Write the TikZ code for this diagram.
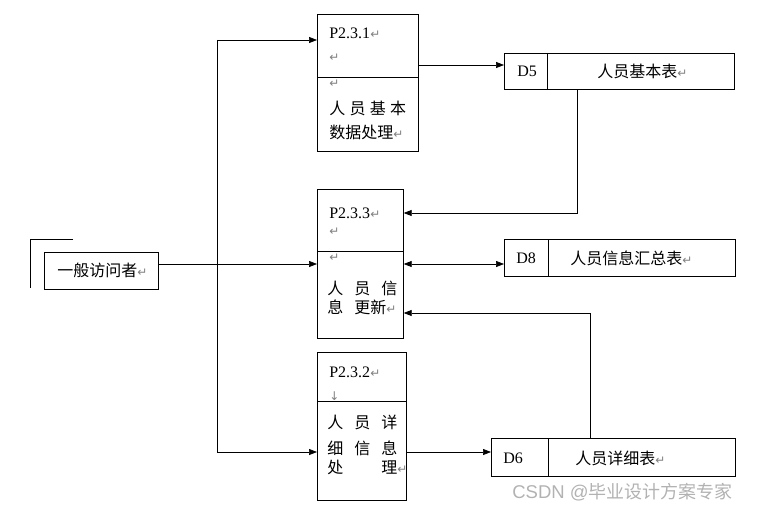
\documentclass[tikz,border=0pt]{standalone}
\usepackage{fontspec}
\setmainfont{Liberation Serif}
\newfontfamily\cjk{Noto Sans CJK SC}
\newfontfamily\symf{DejaVu Sans}
\newfontfamily\wmlatin{Liberation Sans}
\usetikzlibrary{positioning}
\usetikzlibrary{arrows.meta}
\usetikzlibrary{calc}

\newcommand{\ret}{{\symf\color{gray}\fontsize{12}{12}\selectfont ↵}}

\begin{document}
\begin{tikzpicture}[x=1pt, y=-1pt, line width=0.7pt,
  box/.style={draw, anchor=north west, inner sep=0pt},
  txt/.style={anchor=west, inner sep=0pt, font=\fontsize{16}{18}\selectfont},
  flow/.style={-{Triangle[length=8pt,width=6pt]}}]

  \useasboundingbox (0,0) rectangle (758,511);

  % process boxes
  \foreach \name/\top/\w/\h/\cut in {p231/14/101/137/77, p233/189/86/149/251, p232/352/89/148/401} {
    \node[box, minimum width=\w pt, minimum height=\h pt] (\name) at (317,\top) {};
    \draw (317,\cut) -- (317+\w,\cut);
  }

  % data stores
  \foreach \name/\x/\y/\w/\h/\cut in {d5/504/53/230/36/547, d8/504/239/231/37/548, d6/491/438/244/38/548} {
    \node[box, minimum width=\w pt, minimum height=\h pt] (\name) at (\x,\y) {};
    \draw (\cut,\y) -- (\cut,\y+\h);
  }

  % external entity
  \node[box, minimum width=114pt, minimum height=37pt] (visitor) at (44,252) {};
  \draw (73,239) -- (30,239) -- (30,288);
  \node[txt] (visitortxt) at (57,270) {\cjk 一般访问者\ret};

  \node[txt] (p231id) at (329,33) {P2.3.1\ret};
  \node[txt] (p231a) at (329,58) {\ret};
  \node[txt] (p231b) at (329,84) {\ret};
  \node[txt] (p231c) at (329,108) {\cjk 人\hspace{4.3pt}员\hspace{4.3pt}基\hspace{4.3pt}本};
  \node[txt] (p231d) at (329,132) {\cjk 数据处理\ret};

  \node[txt] (p233id) at (329,213) {P2.3.3\ret};
  \node[txt] (p233a) at (329,232) {\ret};
  \node[txt] (p233b) at (329,258) {\ret};
  \node[txt] (p233c) at (327,288) {\cjk 人\hspace{11pt}员\hspace{11pt}信};
  \node[txt] (p233d) at (327,307) {\cjk 息\hspace{11pt}更新\ret};

  \node[txt] (p232id) at (329,372) {P2.3.2\ret};
  \node[txt] (p232a) at (329,396) {\symf\color{gray}\fontsize{12}{12}\selectfont ↓};
  \node[txt] (p232c) at (327,422) {\cjk 人\hspace{11pt}员\hspace{11pt}详};
  \node[txt] (p232d) at (327,448) {\cjk 细\hspace{11pt}信\hspace{11pt}息};
  \node[txt] (p232e) at (327,467) {\cjk 处\hspace{38pt}理\ret};

  \node[txt] (d5id) at (517,71) {D5};
  \node[txt] (d5txt) at (597,71) {\cjk 人员基本表\ret};
  \node[txt] (d8id) at (516,258) {D8};
  \node[txt] (d8txt) at (570,258) {\cjk 人员信息汇总表\ret};
  \node[txt] (d6id) at (503,458) {D6};
  \node[txt] (d6txt) at (575,458) {\cjk 人员详细表\ret};

  % flows
  \coordinate (tt) at (217,40);
  \coordinate (tb) at (217,452);
  \draw (tt) -- (tb);
  \draw[flow] (tt) -- (tt -| p231.west);
  \draw[flow] (tb) -- (tb -| p232.west);
  \draw[flow] (visitor.east |- 0,264) -- (p233.west |- 0,264);
  \draw[flow] (p231.east |- 0,65) -- (d5.west |- 0,65);
  \draw[flow] (d5.south -| 577,0) |- (p233.east |- 0,213);
  \draw[{Triangle[length=8pt,width=6pt]}-{Triangle[length=8pt,width=6pt]}] (p233.east |- 0,264) -- (d8.west |- 0,264);
  \draw[flow] (d6.north -| 590,0) |- (p233.east |- 0,313);
  \draw[flow] (p232.east |- 0,452) -- (d6.west |- 0,452);

  \node[anchor=west, inner sep=0pt, text=gray!60] (mark) at (512,492) {\wmlatin\fontsize{18.5}{20}\selectfont CSDN @\cjk\fontsize{18}{20}\selectfont 毕业设计方案专家};

\end{tikzpicture}
\end{document}
